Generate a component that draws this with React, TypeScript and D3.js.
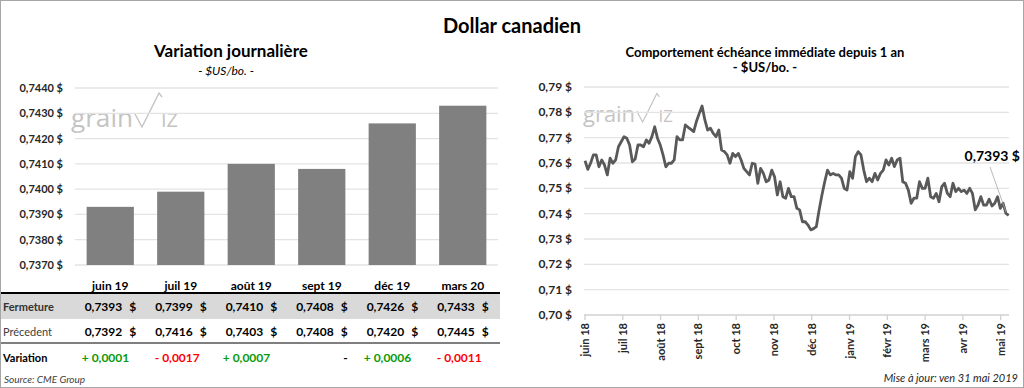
import * as d3 from "d3";

// Left chart: daily variation by contract month
const barCategories = ["juin 19", "juil 19", "août 19", "sept 19", "déc 19", "mars 20"];
const closeValues = [0.7393, 0.7399, 0.741, 0.7408, 0.7426, 0.7433];
const prevValues = [0.7392, 0.7416, 0.7403, 0.7408, 0.742, 0.7445];
const variationValues = [0.0001, -0.0017, 0.0007, 0, 0.0006, -0.0011];
const barTicks = [0.737, 0.738, 0.739, 0.74, 0.741, 0.742, 0.743, 0.744];

// Right chart: nearby contract over one year
const monthLabels = [
  "juin 18", "juil 18", "août 18", "sept 18", "oct 18", "nov 18",
  "déc 18", "janv 19", "févr 19", "mars 19", "avr 19", "mai 19",
];
const lineTicks = [0.7, 0.71, 0.72, 0.73, 0.74, 0.75, 0.76, 0.77, 0.78, 0.79];
const spotValues = [
  0.7609, 0.7575, 0.7599, 0.7632, 0.7632, 0.7585, 0.7612, 0.7592, 0.7553, 0.7619,
  0.7599, 0.7612, 0.7664, 0.7684, 0.7704, 0.7698, 0.7671, 0.7605, 0.7616, 0.7671,
  0.7671, 0.7664, 0.7691, 0.7678, 0.7704, 0.7743, 0.7698, 0.7671, 0.7632, 0.7585,
  0.7599, 0.7599, 0.7612, 0.7704, 0.7691, 0.7691, 0.775, 0.7741, 0.7733, 0.7724,
  0.7765, 0.7796, 0.7825, 0.777, 0.773, 0.7737, 0.7717, 0.7704, 0.773, 0.7651,
  0.7645, 0.7632, 0.7599, 0.7638, 0.7625, 0.7638, 0.7612, 0.7579, 0.7566, 0.7553,
  0.7599, 0.7596, 0.752, 0.7579, 0.7559, 0.7526, 0.7533, 0.7572, 0.7546, 0.7474,
  0.7526, 0.7467, 0.7461, 0.75, 0.7467, 0.7467, 0.7421, 0.7415, 0.7368, 0.7368,
  0.7355, 0.7336, 0.7341, 0.7349, 0.7415, 0.7474, 0.7526, 0.7572, 0.7553, 0.7559,
  0.7553, 0.7553, 0.754, 0.75, 0.7493, 0.7566, 0.754, 0.7625, 0.7645, 0.7632,
  0.7572, 0.7526, 0.754, 0.7526, 0.7559, 0.7533, 0.7559, 0.7572, 0.7612, 0.7592,
  0.7619, 0.7586, 0.7612, 0.7619, 0.7526, 0.752, 0.7493, 0.7441, 0.7461, 0.7461,
  0.7526, 0.75, 0.75, 0.754, 0.7467, 0.7461, 0.748, 0.7447, 0.7507, 0.752,
  0.748, 0.7467, 0.752, 0.7487, 0.75, 0.7487, 0.7493, 0.748, 0.75, 0.748,
  0.7415, 0.7434, 0.7467, 0.7434, 0.7434, 0.7457, 0.743, 0.7441, 0.7467, 0.7421,
  0.7441, 0.7401, 0.7393,
];

const FONT = "Lato, 'Open Sans', sans-serif";
const fmt = (v: number, d: number) => v.toFixed(d).replace(".", ",");

function Watermark({ x, y, k }: { x: number; y: number; k: number }) {
  return (
    <g transform={`translate(${x},${y}) scale(${k})`}>
      <text
        x={0}
        y={0}
        fontFamily="'Open Sans', sans-serif"
        fontSize={25}
        fill="#c4c4c4"
        textLength={62}
        lengthAdjust="spacingAndGlyphs"
      >
        grain
      </text>
      <path d="M64,-13 L71,0 L88,-34 L91,-30" fill="none" stroke="#c4c4c4" strokeWidth={1.4} />
      <text x={90} y={0} fontFamily="'Open Sans', sans-serif" fontSize={20} fill="#c4c4c4">IZ</text>
    </g>
  );
}

export default function App() {
  const W = 1024;
  const H = 388;

  const yBar = d3.scaleLinear().domain([0.737, 0.744]).range([265, 88]);
  const xBar = d3
    .scaleBand<string>()
    .domain(barCategories)
    .range([75, 498])
    .paddingInner(0.33)
    .paddingOuter(0.165);
  const colC = (c: string) => (xBar(c) ?? 0) + xBar.bandwidth() / 2;

  const yLine = d3.scaleLinear().domain([0.7, 0.79]).range([315, 87]);
  const xLine = d3.scaleLinear().domain([0, spotValues.length - 1]).range([585, 1008.7]);
  const xMonth = d3.scaleLinear().domain([0, 11.22]).range([585, 1009]);
  const line = d3
    .line<number>()
    .x((_, i) => xLine(i))
    .y((d) => yLine(d));

  const last = spotValues[spotValues.length - 1];

  return (
    <svg
      width={W}
      height={H}
      viewBox={`0 0 ${W} ${H}`}
      style={{ position: "absolute", left: 0, top: 0, background: "#fff" }}
      fontFamily={FONT}
    >
      <rect x={0.5} y={0.5} width={W - 1} height={H - 1} fill="#fff" stroke="#a6a6a6" />
      <text x={512} y={33} textAnchor="middle" fontSize={20} fontWeight={700} fill="#000">
        Dollar canadien
      </text>

      {/* left chart */}
      <text x={231} y={57} textAnchor="middle" fontSize={17} fontWeight={700} fill="#000">
        Variation journalière
      </text>
      <text x={226} y={75} textAnchor="middle" fontSize={12} fontStyle="italic" fill="#000">
        - $US/bo. -
      </text>
      <Watermark x={71} y={127} k={1} />
      {barTicks.map((t) => (
        <g key={t}>
          <line x1={75} x2={498} y1={yBar(t)} y2={yBar(t)} stroke="#e3e3e3" strokeWidth={1.3} />
          <text x={63} y={yBar(t) + 4} textAnchor="end" fontSize={11} fontWeight={700} fill="#262626">
            {fmt(t, 4)} $
          </text>
        </g>
      ))}
      {barCategories.map((c, i) => (
        <rect
          key={c}
          x={xBar(c)}
          y={yBar(closeValues[i])}
          width={xBar.bandwidth()}
          height={yBar(0.737) - yBar(closeValues[i])}
          fill="#808080"
        />
      ))}
      {barCategories.map((c) => (
        <text key={c} x={colC(c)} y={290} textAnchor="middle" fontSize={12} fontWeight={700} fill="#000">
          {c}
        </text>
      ))}

      {/* table */}
      <rect x={1} y={294} width={499} height={25} fill="#d9d9d9" />
      <line x1={1} x2={500} y1={293} y2={293} stroke="#000" strokeWidth={2} />
      <line x1={1} x2={500} y1={343} y2={343} stroke="#7f7f7f" strokeWidth={2} />
      <text x={3} y={311} fontSize={11} fontWeight={700} fill="#333">Fermeture</text>
      <text x={3} y={336} fontSize={11} fill="#404040">Précedent</text>
      <text x={3} y={362} fontSize={11} fontWeight={700} fill="#000">Variation</text>
      {barCategories.map((c, i) => (
        <g key={c} fontSize={12} fontWeight={700} fill="#000">
          <text x={colC(c) + 12} y={311} textAnchor="end">{fmt(closeValues[i], 4)}</text>
          <text x={colC(c) + 26} y={311} textAnchor="end">$</text>
          <text x={colC(c) + 12} y={336} textAnchor="end">{fmt(prevValues[i], 4)}</text>
          <text x={colC(c) + 26} y={336} textAnchor="end">$</text>
          {variationValues[i] === 0 ? (
            <text x={colC(c) + 26} y={362} textAnchor="end" fill="#000">-</text>
          ) : (
            <text
              x={colC(c) + 19}
              y={362}
              textAnchor="end"
              fill={variationValues[i] > 0 ? "#0b9a0b" : "#ff0000"}
            >
              {variationValues[i] > 0 ? "+ " : "- "}
              {fmt(Math.abs(variationValues[i]), 4)}
            </text>
          )}
        </g>
      ))}
      <text x={4} y={383} fontSize={10} fontStyle="italic" fill="#404040">Source: CME Group</text>

      {/* right chart */}
      <text x={765} y={57} textAnchor="middle" fontSize={13} fontWeight={700} fill="#000">
        Comportement échéance immédiate depuis 1 an
      </text>
      <text x={765} y={72} textAnchor="middle" fontSize={13} fontWeight={700} fill="#000">
        - $US/bo. -
      </text>
      <Watermark x={583} y={122} k={0.84} />
      {lineTicks.map((t) => (
        <g key={t}>
          {t > 0.7 && (
            <line x1={584} x2={1009} y1={yLine(t)} y2={yLine(t)} stroke="#e3e3e3" strokeWidth={1.3} />
          )}
          <text x={572} y={yLine(t) + 4} textAnchor="end" fontSize={12} fontWeight={700} fill="#262626">
            {fmt(t, 2)} $
          </text>
        </g>
      ))}
      <line x1={584} x2={1009} y1={315} y2={315} stroke="#d0d0d0" strokeWidth={1.3} />
      {monthLabels.map((m, i) => (
        <g key={m}>
          <line x1={xMonth(i)} x2={xMonth(i)} y1={315} y2={320} stroke="#d0d0d0" strokeWidth={1.3} />
          <text
            transform={`translate(${xMonth(i) + 4},${323}) rotate(-90)`}
            textAnchor="end"
            fontSize={11}
            fontWeight={700}
            fill="#262626"
          >
            {m}
          </text>
        </g>
      ))}
      <path
        d={line(spotValues) ?? ""}
        fill="none"
        stroke="#595959"
        strokeWidth={2.8}
        strokeLinejoin="round"
      />
      <line x1={990} y1={167} x2={1006} y2={212} stroke="#a6a6a6" strokeWidth={0.8} />
      <text x={1020} y={161} textAnchor="end" fontSize={14} fontWeight={700} fill="#000">
        {fmt(last, 4)} $
      </text>
      <text x={1018} y={382} textAnchor="end" fontSize={11} fontStyle="italic" fill="#262626">
        Mise à jour: ven 31 mai 2019
      </text>
    </svg>
  );
}
